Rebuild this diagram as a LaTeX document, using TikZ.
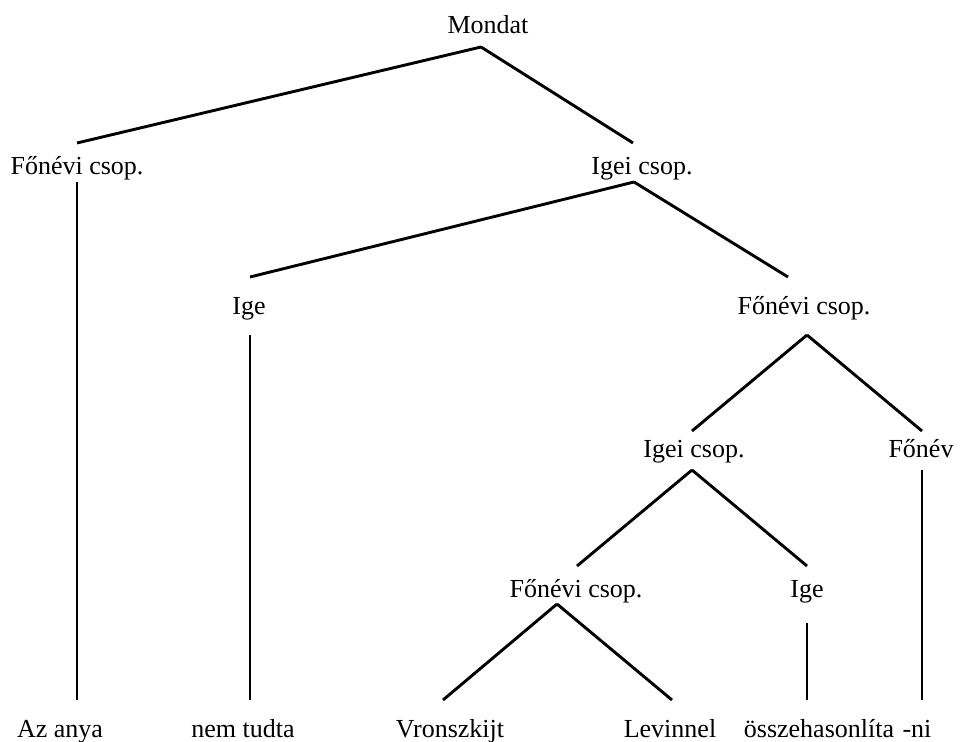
\documentclass[tikz,border=0pt]{standalone}
\usepackage{fontspec}
\setmainfont{Liberation Serif}
\usepackage{tikz}
\usetikzlibrary{calc}

\begin{document}
\begin{tikzpicture}[
  x=0.5pt, y=-0.5pt,
  word/.style={font=\fontsize{13}{15}\selectfont, inner sep=0pt, anchor=base},
  branch/.style={draw=black, line width=1.45pt}
]
\useasboundingbox (0,0) rectangle (962,742);
% labels of the tree
\node[word] (mondat) at (488,34) {Mondat};
\node[word] (fcsA) at (77,175) {Főnévi csop.};
\node[word] (igcsA) at (642,175) {Igei csop.};
\node[word] (igeA) at (249,315) {Ige};
\node[word] (fcsB) at (804,315) {Főnévi csop.};
\node[word] (igcsB) at (694,457) {Igei csop.};
\node[word] (fonev) at (921,457) {Főnév};
\node[word] (fcsC) at (576,597) {Főnévi csop.};
\node[word] (igeB) at (807,597) {Ige};
% words of the sentence
\node[word] (azanya) at (60,737) {Az anya};
\node[word] (nemtudta) at (243,737) {nem tudta};
\node[word] (vron) at (450,737) {Vronszkijt};
\node[word] (levin) at (670,737) {Levinnel};
\node[word] (ossze) at (819,737) {összehasonlíta};
\node[word] (ni) at (917,737) {-ni};
% branches
\draw[branch] ($(mondat.base)+(-7,13)$) -- ($(fcsA.base)+(0,-32)$);
\draw[branch] ($(mondat.base)+(-7,13)$) -- ($(igcsA.base)+(-9,-32)$);
\draw[branch] ($(fcsA.base)+(0,7)$) -- ($(azanya.base)+(17,-37)$);
\draw[branch] ($(igcsA.base)+(-8,7)$) -- ($(igeA.base)+(1,-38)$);
\draw[branch] ($(igcsA.base)+(-8,7)$) -- ($(fcsB.base)+(-16,-38)$);
\draw[branch] ($(igeA.base)+(1,20)$) -- ($(nemtudta.base)+(7,-37)$);
\draw[branch] ($(fcsB.base)+(3,20)$) -- ($(igcsB.base)+(-2,-26)$);
\draw[branch] ($(fcsB.base)+(3,20)$) -- ($(fonev.base)+(1,-26)$);
\draw[branch] ($(igcsB.base)+(-2,13)$) -- ($(fcsC.base)+(1,-31)$);
\draw[branch] ($(igcsB.base)+(-2,13)$) -- ($(igeB.base)+(0,-31)$);
\draw[branch] ($(fonev.base)+(1,13)$) -- ($(ni.base)+(5,-37)$);
\draw[branch] ($(fcsC.base)+(-19,7)$) -- ($(vron.base)+(-7,-37)$);
\draw[branch] ($(fcsC.base)+(-19,7)$) -- ($(levin.base)+(2,-37)$);
\draw[branch] ($(igeB.base)+(0,26)$) -- ($(ossze.base)+(-12,-37)$);
\end{tikzpicture}
\end{document}
